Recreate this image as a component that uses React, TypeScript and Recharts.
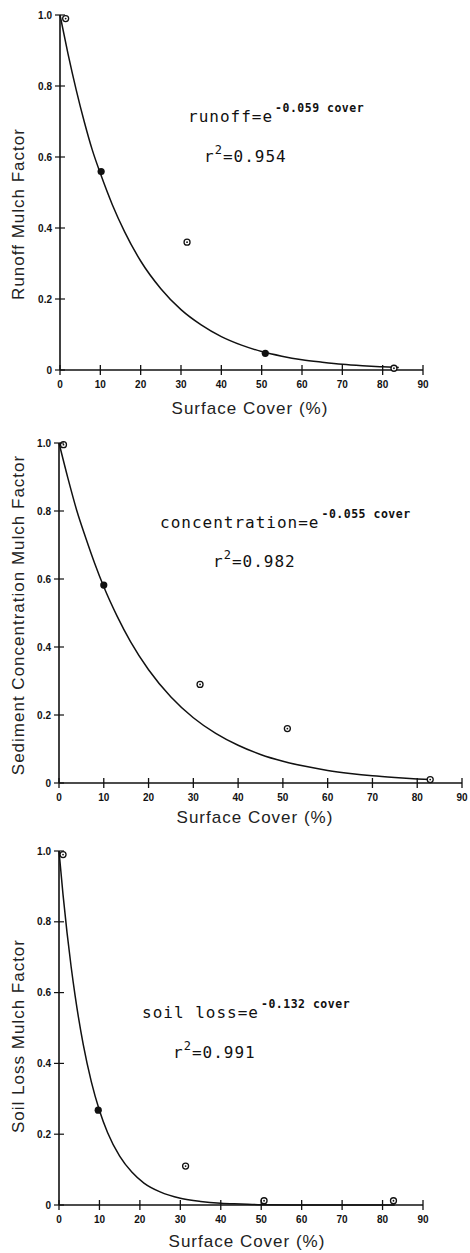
import { ComposedChart, Line, Scatter, XAxis, YAxis } from "recharts";

const coverTicks = [0, 10, 20, 30, 40, 50, 60, 70, 80, 90];
const factorTicks = [0, 0.2, 0.4, 0.6, 0.8, 1.0];

// runoff panel
const runoffOpenCover = [1.4, 31.5, 82.8];
const runoffOpenFactor = [0.99, 0.36, 0.005];
const runoffFilledCover = [10.2, 50.9];
const runoffFilledFactor = [0.559, 0.047];
const runoffCurveCover = [0, 2, 4, 6, 8, 10, 13, 16, 20, 25, 30, 35, 40, 45, 50, 55, 60, 65, 70, 75, 80, 84];
const runoffCurveFactor = [1.0, 0.89, 0.79, 0.7, 0.62, 0.554, 0.465, 0.39, 0.307, 0.229, 0.17, 0.127, 0.094, 0.07, 0.052, 0.039, 0.029, 0.022, 0.016, 0.012, 0.009, 0.007];

// sediment concentration panel
const concOpenCover = [1.0, 31.5, 51.0, 82.9];
const concOpenFactor = [0.995, 0.29, 0.16, 0.01];
const concFilledCover = [10.0];
const concFilledFactor = [0.582];
const concCurveCover = [0, 2, 4, 6, 8, 10, 13, 16, 20, 25, 30, 35, 40, 45, 50, 55, 60, 65, 70, 75, 80, 83];
const concCurveFactor = [1.0, 0.896, 0.8, 0.72, 0.645, 0.577, 0.49, 0.415, 0.333, 0.253, 0.192, 0.146, 0.111, 0.084, 0.064, 0.049, 0.037, 0.028, 0.021, 0.016, 0.012, 0.01];

// soil loss panel
const soilOpenCover = [1.0, 31.3, 50.7, 82.7];
const soilOpenFactor = [0.99, 0.11, 0.012, 0.012];
const soilFilledCover = [9.7];
const soilFilledFactor = [0.268];
const soilCurveCover = [0, 1, 2, 3, 4, 6, 8, 10, 12, 15, 18, 21, 25, 30, 35, 40, 45, 50, 60, 70, 83];
const soilCurveFactor = [1.0, 0.876, 0.768, 0.673, 0.59, 0.453, 0.348, 0.267, 0.205, 0.138, 0.093, 0.062, 0.037, 0.019, 0.01, 0.005, 0.003, 0.001, 0, 0, 0];

const pairs = (xs: number[], ys: number[]) => xs.map((x, i) => ({ cover: x, factor: ys[i] }));

const INK = "#111";

function XTick({ x, y, payload }: any) {
  return (
    <g>
      <line x1={x} x2={x} y1={y - 5} y2={y + 5} stroke={INK} strokeWidth={1.3} />
      <text x={x} y={y + 18} textAnchor="middle" fontFamily="'Liberation Sans', Arial, sans-serif" fontWeight="bold" fontSize={10} fill={INK}>
        {payload.value}
      </text>
    </g>
  );
}

function YTick({ x, y, payload }: any) {
  const label = payload.value === 0 ? "0" : payload.value.toFixed(1);
  return (
    <g>
      <line x1={x - 5} x2={x + 5} y1={y} y2={y} stroke={INK} strokeWidth={1.2} />
      <text x={x - 8} y={y} dy="0.35em" textAnchor="end" fontFamily="'Liberation Sans', Arial, sans-serif" fontWeight="bold" fontSize={10} fill={INK}>
        {label}
      </text>
    </g>
  );
}

function OpenMark({ cx, cy }: any) {
  return (
    <g>
      <circle cx={cx} cy={cy} r={3} fill="#fff" stroke={INK} strokeWidth={1.3} />
      <circle cx={cx} cy={cy} r={0.9} fill={INK} />
    </g>
  );
}

function FilledMark({ cx, cy }: any) {
  return <circle cx={cx} cy={cy} r={3.6} fill={INK} />;
}

interface PanelProps {
  top: number;
  height: number;
  plot: { left: number; right: number; top: number; bottom: number };
  curve: { cover: number; factor: number }[];
  open: { cover: number; factor: number }[];
  filled: { cover: number; factor: number }[];
}

function Panel({ top, height, plot, curve, open, filled }: PanelProps) {
  const margin = {
    top: plot.top - top,
    bottom: top + height - plot.bottom - 30,
    left: plot.left - 40,
    right: 470 - plot.right,
  };
  return (
    <div style={{ position: "absolute", left: 0, top, width: 470, height }}>
      <ComposedChart width={470} height={height} margin={margin}>
        <XAxis
          type="number"
          dataKey="cover"
          domain={[0, 90]}
          ticks={coverTicks}
          interval={0}
          height={30}
          tickSize={0}
          tickMargin={0}
          tickLine={false}
          axisLine={{ stroke: INK, strokeWidth: 1.3 }}
          tick={<XTick />}
        />
        <YAxis
          type="number"
          dataKey="factor"
          domain={[0, 1]}
          ticks={factorTicks}
          interval={0}
          width={40}
          tickSize={0}
          tickMargin={0}
          tickLine={false}
          axisLine={{ stroke: INK, strokeWidth: 1.6 }}
          tick={<YTick />}
        />
        <Line
          data={curve}
          dataKey="factor"
          type="monotone"
          stroke={INK}
          strokeWidth={1.5}
          dot={false}
          activeDot={false}
          isAnimationActive={false}
        />
        <Scatter data={open} shape={<OpenMark />} isAnimationActive={false} />
        <Scatter data={filled} shape={<FilledMark />} isAnimationActive={false} />
      </ComposedChart>
    </div>
  );
}

const MONO = "'DejaVu Sans Mono', monospace";
const SANS = "'Liberation Sans', Arial, sans-serif";

function Equation({ x, y, name, exponent, r2, rx, ry }: any) {
  return (
    <g fill={INK}>
      <text x={x} y={y} fontFamily={MONO} fontSize={16} letterSpacing={1}>
        {name}=e
        <tspan dx={2} dy={-10} fontSize={11.5} fontWeight="bold" letterSpacing={0.5}>
          {exponent}
        </tspan>
      </text>
      <text x={rx} y={ry} fontFamily={MONO} fontSize={16} letterSpacing={1}>
        r
        <tspan dy={-8} fontSize={12}>2</tspan>
        <tspan dy={8}>={r2}</tspan>
      </text>
    </g>
  );
}

function AxisTitles({ xTitleX, xTitleY, yTitleY, yTitle }: any) {
  return (
    <g fill="#222" fontFamily={SANS} fontSize={17} letterSpacing={1}>
      <text x={xTitleX} y={xTitleY} textAnchor="middle">
        Surface Cover (%)
      </text>
      <text x={24} y={yTitleY} textAnchor="middle" transform={`rotate(-90 24 ${yTitleY})`}>
        {yTitle}
      </text>
    </g>
  );
}

export default function App() {
  return (
    <div style={{ position: "absolute", left: 0, top: 0, width: 470, height: 1253, background: "#fff" }}>
      <Panel
        top={0}
        height={410}
        plot={{ left: 60, right: 423, top: 15, bottom: 370 }}
        curve={pairs(runoffCurveCover, runoffCurveFactor)}
        open={pairs(runoffOpenCover, runoffOpenFactor)}
        filled={pairs(runoffFilledCover, runoffFilledFactor)}
      />
      <Panel
        top={420}
        height={410}
        plot={{ left: 59, right: 462, top: 443, bottom: 783 }}
        curve={pairs(concCurveCover, concCurveFactor)}
        open={pairs(concOpenCover, concOpenFactor)}
        filled={pairs(concFilledCover, concFilledFactor)}
      />
      <Panel
        top={840}
        height={410}
        plot={{ left: 59, right: 423, top: 851, bottom: 1205 }}
        curve={pairs(soilCurveCover, soilCurveFactor)}
        open={pairs(soilOpenCover, soilOpenFactor)}
        filled={pairs(soilFilledCover, soilFilledFactor)}
      />
      <svg width={470} height={1253} style={{ position: "absolute", left: 0, top: 0, pointerEvents: "none" }}>
        <Equation x={188} y={122} name="runoff" exponent="-0.059 cover" rx={204} ry={162} r2="0.954" />
        <Equation x={160} y={528} name="concentration" exponent="-0.055 cover" rx={213} ry={567} r2="0.982" />
        <Equation x={142} y={1018} name="soil loss" exponent="-0.132 cover" rx={173} ry={1058} r2="0.991" />
        <AxisTitles xTitleX={250} xTitleY={414} yTitleY={214} yTitle="Runoff Mulch Factor" />
        <AxisTitles xTitleX={255} xTitleY={823} yTitleY={615} yTitle="Sediment Concentration Mulch Factor" />
        <AxisTitles xTitleX={247} xTitleY={1247} yTitleY={1036} yTitle="Soil Loss Mulch Factor" />
      </svg>
    </div>
  );
}
